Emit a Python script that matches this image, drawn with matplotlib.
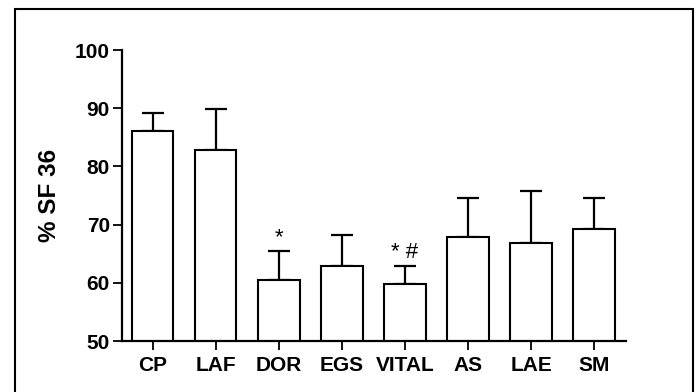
import matplotlib.pyplot as plt
import matplotlib.patches as mpatches
import numpy as np

plt.rcParams['font.family'] = ['Liberation Sans', 'DejaVu Sans']

# data
groups = ['CP', 'LAF', 'DOR', 'EGS', 'VITAL', 'AS', 'LAE', 'SM']
means = [86.1, 82.9, 60.5, 62.9, 59.8, 67.8, 66.8, 69.2]
err_up = [3.1, 6.9, 4.9, 5.3, 3.1, 6.7, 9.0, 5.3]
marks = ['', '', '*', '', '* #', '', '', '']

fig = plt.figure(figsize=(6.99, 3.92), dpi=100)
ax = fig.add_axes([0.1741, 0.1301, 0.721, 0.7423])

x = np.arange(len(groups))
lower = np.zeros(len(groups))
ax.bar(x, means, width=0.66, color='white', edgecolor='black', linewidth=1.5,
       zorder=2)
ax.errorbar(x, means, yerr=[lower, err_up], fmt='none', ecolor='black',
            elinewidth=1.6, capsize=7.8, capthick=1.6, zorder=1)

for xi, m, e, lab in zip(x, means, err_up, marks):
    if lab:
        ax.annotate(lab, (xi, m + e), xytext=(0, 2), textcoords='offset points',
                    ha='center', va='bottom', fontsize=16)

ax.set_xlim(-0.49, 7.5)
ax.set_ylim(50, 100)
ax.set_yticks([50, 60, 70, 80, 90, 100])
ax.set_xticks(x)
ax.set_xticklabels(groups)
for s in ['top', 'right']:
    ax.spines[s].set_visible(False)
for s in ['left', 'bottom']:
    ax.spines[s].set_linewidth(1.6)
ax.tick_params(axis='both', length=6.5, width=1.3, labelsize=15, pad=2)
ax.tick_params(axis='x', pad=4)
for t in ax.get_xticklabels() + ax.get_yticklabels():
    t.set_fontweight('bold')
ax.set_ylabel('% SF 36', fontsize=17.5, fontweight='bold', labelpad=10)

# frame round the whole picture
fig.patches.append(mpatches.Rectangle((0.0215, -0.05), 0.9695, 1.027,
                                      transform=fig.transFigure, fill=False,
                                      edgecolor='black', linewidth=1.5))

fig.savefig('out.png', dpi=100)
